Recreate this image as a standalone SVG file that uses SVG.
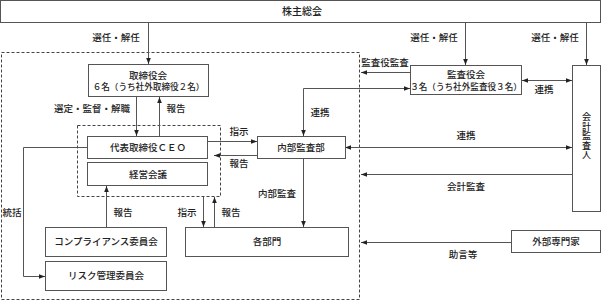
<svg xmlns="http://www.w3.org/2000/svg" width="602" height="303" viewBox="0 0 602 303">
<style>
  .box { fill: #fff; stroke: #555; stroke-width: 1; }
  .dash { fill: none; stroke: #444; stroke-width: 1; stroke-dasharray: 3 2; }
  .ln { fill: none; stroke: #555; stroke-width: 1; }
  text { font-family: "Noto Sans CJK JP", "Noto Sans CJK SC", sans-serif; font-size: 9.5px; fill: #222; text-anchor: middle; font-weight: 500; }
  .sm { font-size: 8.6px; }
</style>
<defs>
  <marker id="ah" markerWidth="6" markerHeight="6" refX="6" refY="3" orient="auto" markerUnits="userSpaceOnUse">
    <path d="M0,0.7 L6,3 L0,5.3 Z" fill="#222"/>
  </marker>
  <marker id="as" markerWidth="6" markerHeight="6" refX="0" refY="3" orient="auto" markerUnits="userSpaceOnUse">
    <path d="M6,0.7 L0,3 L6,5.3 Z" fill="#222"/>
  </marker>
</defs>
<rect fill="#fff" x="0" y="0" width="602" height="303"/>

<g id="frames">
  <rect class="dash" x="1.5" y="52.5" width="358" height="247"/>
  <rect class="dash" x="77.5" y="125.5" width="143" height="71"/>
</g>

<g id="connectors">
  <line class="ln" x1="148.5" y1="22" x2="148.5" y2="64" marker-end="url(#ah)"/>
  <line class="ln" x1="465.5" y1="22" x2="465.5" y2="65" marker-end="url(#ah)"/>
  <line class="ln" x1="586.5" y1="22" x2="586.5" y2="65" marker-end="url(#ah)"/>
  <line class="ln" x1="136.5" y1="97" x2="136.5" y2="136" marker-end="url(#ah)"/>
  <line class="ln" x1="159.5" y1="136" x2="159.5" y2="97" marker-end="url(#ah)"/>
  <line class="ln" x1="208" y1="141.5" x2="257" y2="141.5" marker-end="url(#ah)"/>
  <line class="ln" x1="257" y1="155.5" x2="214" y2="155.5" marker-end="url(#ah)"/>
  <polyline class="ln" points="303.5,136 303.5,88.5 410,88.5" marker-start="url(#as)" marker-end="url(#ah)"/>
  <line class="ln" x1="410" y1="72.5" x2="361" y2="72.5" marker-end="url(#ah)"/>
  <line class="ln" x1="522" y1="80.5" x2="572" y2="80.5" marker-start="url(#as)" marker-end="url(#ah)"/>
  <line class="ln" x1="345" y1="147.5" x2="572" y2="147.5" marker-start="url(#as)" marker-end="url(#ah)"/>
  <line class="ln" x1="572" y1="174.5" x2="361" y2="174.5" marker-end="url(#ah)"/>
  <line class="ln" x1="303.5" y1="159" x2="303.5" y2="227" marker-end="url(#ah)"/>
  <line class="ln" x1="203.5" y1="197" x2="203.5" y2="227" marker-end="url(#ah)"/>
  <line class="ln" x1="214.5" y1="227" x2="214.5" y2="197" marker-end="url(#ah)"/>
  <line class="ln" x1="106.5" y1="227" x2="106.5" y2="186" marker-end="url(#ah)"/>
  <polyline class="ln" points="87.5,147.5 23.5,147.5 23.5,276.5 45,276.5" marker-end="url(#ah)"/>
  <line class="ln" x1="511" y1="242.5" x2="361" y2="242.5" marker-end="url(#ah)"/>
</g>

<g id="labels">
  <text x="116" y="41">選任・解任</text>
  <text x="434" y="41">選任・解任</text>
  <text x="555" y="41">選任・解任</text>
  <text x="92" y="112">選定・監督・解職</text>
  <text x="176" y="112">報告</text>
  <text x="239" y="135">指示</text>
  <text x="239" y="167">報告</text>
  <text x="385" y="66">監査役監査</text>
  <text x="320" y="116">連携</text>
  <text x="544" y="93">連携</text>
  <text x="466" y="139">連携</text>
  <text x="466" y="190">会計監査</text>
  <text x="277" y="197">内部監査</text>
  <text x="187" y="216">指示</text>
  <text x="231" y="216">報告</text>
  <text x="123" y="216">報告</text>
  <text x="12" y="216">統括</text>
  <text x="463" y="258">助言等</text>
</g>

<g id="shareholders">
  <rect class="box" x="0.5" y="0.5" width="600" height="22"/>
  <text x="302" y="15" style="font-size:10px">株主総会</text>
</g>
<g id="board">
  <rect class="box" x="88.5" y="64.5" width="120" height="32"/>
  <text x="148" y="78.5">取締役会</text>
  <text class="sm" x="148.5" y="90">６名（うち社外取締役２名）</text>
</g>
<g id="ceo">
  <rect class="box" x="87.5" y="136.5" width="120" height="22"/>
  <text x="148" y="151">代表取締役ＣＥＯ</text>
</g>
<g id="mgmt">
  <rect class="box" x="87.5" y="162.5" width="120" height="23"/>
  <text x="148" y="177.5">経営会議</text>
</g>
<g id="internal-audit">
  <rect class="box" x="257.5" y="136.5" width="88" height="22"/>
  <text x="301" y="151">内部監査部</text>
</g>
<g id="kansayaku">
  <rect class="box" x="410.5" y="65.5" width="111" height="29"/>
  <text x="466" y="78">監査役会</text>
  <text class="sm" x="466" y="89.5">３名（うち社外監査役３名）</text>
</g>
<g id="auditor">
  <rect class="box" x="572.5" y="65.5" width="28" height="146"/>
  <text x="586.5" y="136" writing-mode="vertical-rl" style="font-size:9px;letter-spacing:0.5px">会計監査人</text>
</g>
<g id="departments">
  <rect class="box" x="185.5" y="227.5" width="163" height="29"/>
  <text x="267" y="245">各部門</text>
</g>
<g id="compliance">
  <rect class="box" x="45.5" y="227.5" width="121" height="29"/>
  <text x="106" y="245">コンプライアンス委員会</text>
</g>
<g id="risk">
  <rect class="box" x="45.5" y="261.5" width="121" height="29"/>
  <text x="106" y="279">リスク管理委員会</text>
</g>
<g id="experts">
  <rect class="box" x="511.5" y="230.5" width="89" height="22"/>
  <text x="556" y="245">外部専門家</text>
</g>
</svg>
